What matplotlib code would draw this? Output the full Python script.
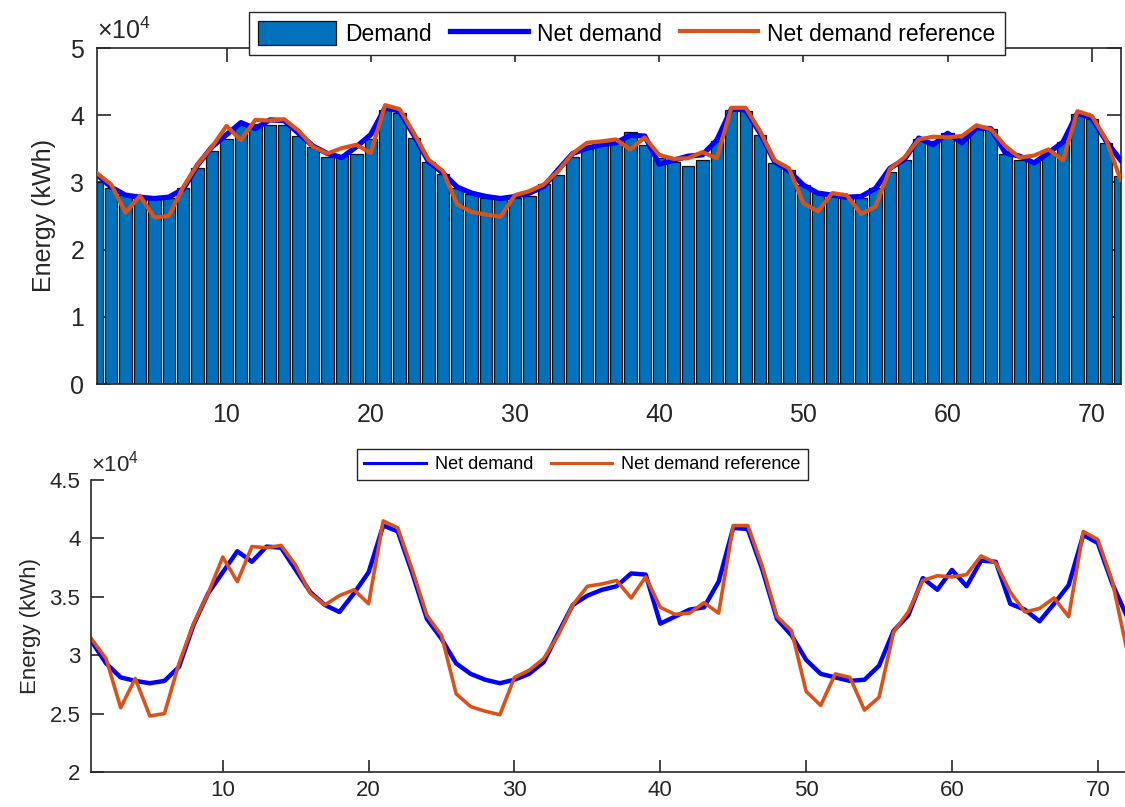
import matplotlib
matplotlib.use('Agg')
import matplotlib.pyplot as plt
from matplotlib.ticker import FuncFormatter
import numpy as np

plt.rcParams['font.family'] = ['Liberation Sans', 'DejaVu Sans']
plt.rcParams['mathtext.fontset'] = 'custom'
plt.rcParams['mathtext.rm'] = 'Liberation Sans'

# hours 1..72, energy in units of 10^4 kWh
hours = list(range(1, 73))

demand = [3.00, 2.92, 2.81, 2.80, 2.76, 2.77, 2.91, 3.21, 3.46, 3.64,
          3.85, 3.87, 3.86, 3.86, 3.69, 3.53, 3.38, 3.40, 3.43, 3.65,
          4.08, 4.03, 3.66, 3.30, 3.12, 2.92, 2.82, 2.77, 2.76, 2.77,
          2.80, 2.97, 3.11, 3.38, 3.53, 3.55, 3.59, 3.75, 3.56, 3.36,
          3.30, 3.25, 3.34, 3.61, 4.07, 4.06, 3.70, 3.29, 3.18, 2.96,
          2.84, 2.80, 2.77, 2.77, 2.91, 3.15, 3.33, 3.65, 3.61, 3.74,
          3.71, 3.81, 3.79, 3.42, 3.33, 3.32, 3.44, 3.60, 4.02, 3.94,
          3.58, 3.10]

net_demand = [3.12, 2.93, 2.81, 2.78, 2.76, 2.78, 2.90, 3.26, 3.53, 3.71,
              3.89, 3.80, 3.93, 3.92, 3.73, 3.54, 3.43, 3.37, 3.53, 3.71,
              4.11, 4.06, 3.70, 3.31, 3.14, 2.93, 2.84, 2.79, 2.76, 2.79,
              2.84, 2.94, 3.19, 3.43, 3.51, 3.56, 3.59, 3.70, 3.69, 3.27,
              3.33, 3.39, 3.41, 3.63, 4.09, 4.08, 3.73, 3.31, 3.17, 2.96,
              2.84, 2.81, 2.78, 2.79, 2.91, 3.21, 3.34, 3.66, 3.56, 3.73,
              3.59, 3.81, 3.80, 3.44, 3.39, 3.29, 3.44, 3.60, 4.03, 3.96,
              3.61, 3.33]

net_ref = [3.14, 2.97, 2.55, 2.80, 2.48, 2.50, 2.93, 3.27, 3.53, 3.84,
           3.63, 3.93, 3.92, 3.94, 3.77, 3.53, 3.43, 3.51, 3.56, 3.44,
           4.15, 4.09, 3.73, 3.34, 3.17, 2.67, 2.56, 2.52, 2.49, 2.81,
           2.87, 2.97, 3.17, 3.43, 3.59, 3.61, 3.64, 3.49, 3.67, 3.41,
           3.35, 3.36, 3.45, 3.36, 4.11, 4.11, 3.76, 3.33, 3.21, 2.69,
           2.57, 2.84, 2.81, 2.53, 2.64, 3.20, 3.37, 3.64, 3.68, 3.67,
           3.69, 3.85, 3.79, 3.54, 3.37, 3.40, 3.49, 3.33, 4.06, 3.99,
           3.63, 3.04]

xticks = [10, 20, 30, 40, 50, 60, 70]
top_yticks = [0, 1, 2, 3, 4, 5]
bot_yticks = [2, 2.5, 3, 3.5, 4, 4.5]

BAR = '#0072BD'
BLUE = '#0000FF'
ORANGE = '#D95319'
AX = '#262626'

fig = plt.figure(figsize=(11.25, 8.07), dpi=100)

# ---- top: demand bars + net demand lines
ax1 = fig.add_axes([96.7/1125, 1-384/807, 1024/1125, 336/807])
b = ax1.bar(hours, demand, width=0.86, color=BAR, edgecolor='#111111', linewidth=0.9, zorder=2)
l1, = ax1.plot(hours, net_demand, color=BLUE, lw=3.8, zorder=3)
l2, = ax1.plot(hours, net_ref, color=ORANGE, lw=3.0, zorder=4)
ax1.set_xlim(1, 72)
ax1.set_ylim(0, 5)
ax1.set_xticks(xticks)
ax1.set_yticks(top_yticks)
ax1.yaxis.set_major_formatter(FuncFormatter(lambda v, p: '%g' % v))
ax1.tick_params(direction='in', length=10, width=1.2, colors=AX, labelsize=18,
                top=True, right=True)
ax1.tick_params(axis='x', pad=14)
ax1.tick_params(axis='y', pad=9)
for s in ax1.spines.values():
    s.set_color(AX)
    s.set_linewidth(1.2)
ax1.set_ylabel('Energy (kWh)', fontsize=18, color=AX, labelpad=10)
ax1.text(0.0, 1.012, r'$\times\mathregular{10^{4}}$', transform=ax1.transAxes,
         fontsize=18, color=AX, ha='left', va='bottom')
leg1 = fig.legend([b, l1, l2], ['Demand', 'Net demand', 'Net demand reference'],
                  loc='upper center', bbox_to_anchor=(626.5/1125, 1-12/807), ncol=3,
                  fontsize=16.5, fancybox=False, edgecolor=AX, framealpha=1,
                  borderpad=0.4, handlelength=3.4, handleheight=1.25,
                  columnspacing=0.8, handletextpad=0.4, borderaxespad=0)
leg1.get_frame().set_linewidth(1.0)

# ---- bottom: net demand lines only
ax2 = fig.add_axes([91.5/1125, 35/807, 1035.5/1125, 292/807])
ax2.plot(hours, net_demand, color=BLUE, lw=3.2, label='Net demand')
ax2.plot(hours, net_ref, color=ORANGE, lw=2.6, label='Net demand reference')
ax2.set_xlim(1, 72)
ax2.set_ylim(2, 4.5)
ax2.set_xticks(xticks)
ax2.set_yticks(bot_yticks)
ax2.yaxis.set_major_formatter(FuncFormatter(lambda v, p: '%g' % v))
ax2.tick_params(direction='in', length=9, width=1.2, colors=AX, labelsize=16)
ax2.tick_params(axis='x', pad=6)
ax2.tick_params(axis='y', pad=8)
ax2.spines['top'].set_visible(False)
ax2.spines['right'].set_visible(False)
for s in ('left', 'bottom'):
    ax2.spines[s].set_color(AX)
    ax2.spines[s].set_linewidth(1.2)
ax2.set_ylabel('Energy (kWh)', fontsize=16, color=AX, labelpad=6)
ax2.text(0.0, 1.012, r'$\times\mathregular{10^{4}}$', transform=ax2.transAxes,
         fontsize=16, color=AX, ha='left', va='bottom')
leg2 = fig.legend(*ax2.get_legend_handles_labels(), loc='upper center',
                  bbox_to_anchor=(582.5/1125, 1-449/807), ncol=2, fontsize=13,
                  fancybox=False, edgecolor=AX, framealpha=1, borderpad=0.4,
                  handlelength=3.4, columnspacing=1.0, handletextpad=0.5,
                  borderaxespad=0)
leg2.get_frame().set_linewidth(1.0)
for ln in leg2.get_lines():
    ln.set_linewidth(2.2)

fig.savefig('out.png', dpi=100)
